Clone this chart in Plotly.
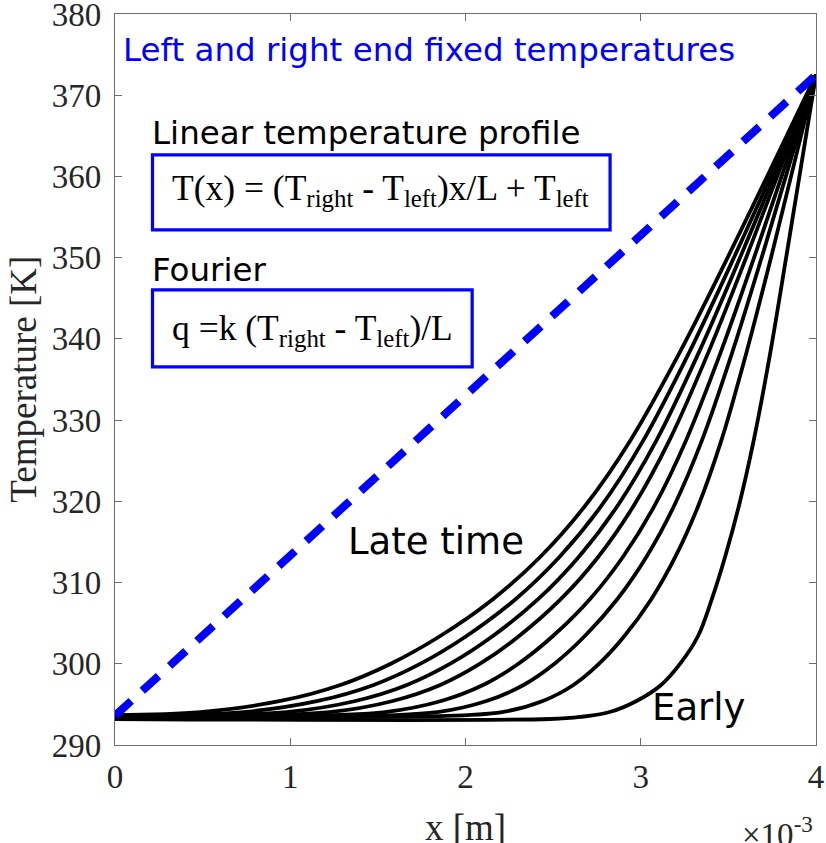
import plotly.graph_objects as go

# ---- data (x in units of 1e-3 m, T in K) ----
x_fixed = [0.0, 4.0]
T_fixed = [293.6, 372.5]

# temperature levels at which the profiles were read
T_levels = [294.06, 295.42, 297.39, 299.98, 303.42, 307.98, 313.15, 319.43, 327.44, 338.40, 350.59, 372.51]

# eight temperature profiles, early (e1) to late (e8)
curves_x = {
    "e1": [0, 2.483, 2.654, 2.823, 2.976, 3.116, 3.224, 3.327, 3.406, 3.481, 3.560, 3.644, 3.740, 3.834, 4.0],
    "e2": [0, 1.200, 2.209, 2.441, 2.616, 2.761, 2.907, 3.061, 3.197, 3.328, 3.459, 3.604, 3.750, 4.0],
    "e3": [0, 1.000, 1.840, 2.120, 2.331, 2.506, 2.681, 2.867, 3.032, 3.190, 3.348, 3.523, 3.698, 4.0],
    "e4": [0, 0.800, 1.541, 1.861, 2.100, 2.300, 2.499, 2.711, 2.898, 3.078, 3.257, 3.457, 3.656, 4.0],
    "e5": [0, 1.225, 1.585, 1.856, 2.081, 2.306, 2.545, 2.757, 2.959, 3.162, 3.387, 3.612, 4.0],
    "e6": [0, 0.979, 1.372, 1.666, 1.911, 2.156, 2.416, 2.646, 2.867, 3.088, 3.333, 3.578, 4.0],
    "e7": [0, 0.733, 1.158, 1.476, 1.741, 2.006, 2.287, 2.536, 2.775, 3.013, 3.278, 3.544, 4.0],
    "e8": [0, 0.488, 0.944, 1.286, 1.571, 1.856, 2.158, 2.426, 2.682, 2.939, 3.224, 3.509, 4.0],
}
curves_T = {
    "e1": [293.20, 293.20, 293.45] + T_levels,
    "e2": [293.33, 293.40] + T_levels,
    "e3": [293.39, 293.45] + T_levels,
    "e4": [293.45, 293.50] + T_levels,
    "e5": [293.51] + T_levels,
    "e6": [293.57] + T_levels,
    "e7": [293.63] + T_levels,
    "e8": [293.69] + T_levels,
}

x_ticks = [0, 1, 2, 3, 4]
y_ticks = [290, 300, 310, 320, 330, 340, 350, 360, 370, 380]

SERIF = "Liberation Serif"
SANS = "DejaVu Sans"
BLUE = "#0000FF"
AX = "#6e6e6e"

fig = go.Figure()
for k in curves_x:
    fig.add_trace(go.Scatter(x=curves_x[k], y=curves_T[k], mode="lines",
                             line=dict(color="black", width=3.8, shape="spline", smoothing=1.0),
                             showlegend=False, hoverinfo="skip"))
fig.add_trace(go.Scatter(x=x_fixed, y=T_fixed, mode="lines",
                         line=dict(color=BLUE, width=8, dash="22px,15px"),
                         showlegend=False, hoverinfo="skip"))

axis_common = dict(showgrid=False, zeroline=False, showline=True, linecolor=AX, linewidth=1.3,
                   mirror="ticks", ticks="inside", ticklen=7, tickwidth=1.1, tickcolor=AX,
                   automargin=False, ticklabeloverflow="allow",
                   tickfont=dict(family=SERIF, size=33, color="#262626"))
fig.update_xaxes(range=[0, 4], tickvals=x_ticks, ticktext=[str(v) for v in x_ticks],
                 ticklabelstandoff=2, **axis_common)
fig.update_yaxes(range=[290, 380], tickvals=y_ticks, ticktext=[str(v) for v in y_ticks],
                 ticklabelstandoff=6, **axis_common)

ann = []
ann.append(dict(x=0.037, y=375.6, xref="x", yref="y", xanchor="left", yanchor="middle", showarrow=False,
                text="Left and right end fixed temperatures", font=dict(family=SANS, size=32.5, color=BLUE)))
ann.append(dict(x=0.197, y=365.4, xref="x", yref="y", xanchor="left", yanchor="middle", showarrow=False,
                text="Linear temperature profile", font=dict(family=SANS, size=32.5, color="black")))
ann.append(dict(x=0.311, y=358.3, xref="x", yref="y", xanchor="left", yanchor="middle", showarrow=False,
                text="T(x) = (T<sub>right</sub> - T<sub>left</sub>)x/L + T<sub>left</sub>",
                font=dict(family=SERIF, size=35.5, color="black")))
ann.append(dict(x=0.197, y=348.5, xref="x", yref="y", xanchor="left", yanchor="middle", showarrow=False,
                text="Fourier", font=dict(family=SANS, size=32.5, color="black")))
ann.append(dict(x=0.311, y=341.1, xref="x", yref="y", xanchor="left", yanchor="middle", showarrow=False,
                text="q =k (T<sub>right</sub> - T<sub>left</sub>)/L",
                font=dict(family=SERIF, size=35.5, color="black")))
ann.append(dict(x=1.32, y=315.0, xref="x", yref="y", xanchor="left", yanchor="middle", showarrow=False,
                text="Late time", font=dict(family=SANS, size=37, color="black")))
ann.append(dict(x=3.05, y=294.6, xref="x", yref="y", xanchor="left", yanchor="middle", showarrow=False,
                text="Early", font=dict(family=SANS, size=37, color="black")))
ann.append(dict(x=0.5, y=-0.113, xref="paper", yref="paper", xanchor="center", yanchor="middle", showarrow=False,
                text="x [m]", font=dict(family=SERIF, size=37, color="#262626")))
ann.append(dict(x=0.9986, y=-0.119, xref="paper", yref="paper", xanchor="right", yanchor="middle", showarrow=False,
                text="×10<sup>-3</sup>", font=dict(family=SERIF, size=33, color="#262626")))
ann.append(dict(x=-0.131, y=0.5, xref="paper", yref="paper", xanchor="center", yanchor="middle", showarrow=False,
                textangle=-90, text="Temperature [K]", font=dict(family=SERIF, size=37, color="#262626")))

shapes = [
    dict(type="rect", xref="x", yref="y", x0=0.214, x1=2.825, y0=353.42, y1=362.66,
         line=dict(color=BLUE, width=3.2), fillcolor="rgba(0,0,0,0)"),
    dict(type="rect", xref="x", yref="y", x0=0.214, x1=2.038, y0=336.55, y1=346.03,
         line=dict(color=BLUE, width=3.2), fillcolor="rgba(0,0,0,0)"),
]

fig.update_layout(width=826, height=843, margin=dict(l=115, r=10, t=14, b=98, autoexpand=False),
                  paper_bgcolor="white", plot_bgcolor="white",
                  annotations=ann, shapes=shapes)

fig.write_html("out.html", config={"displayModeBar": False},
               post_script="document.body.style.margin='0px';")
